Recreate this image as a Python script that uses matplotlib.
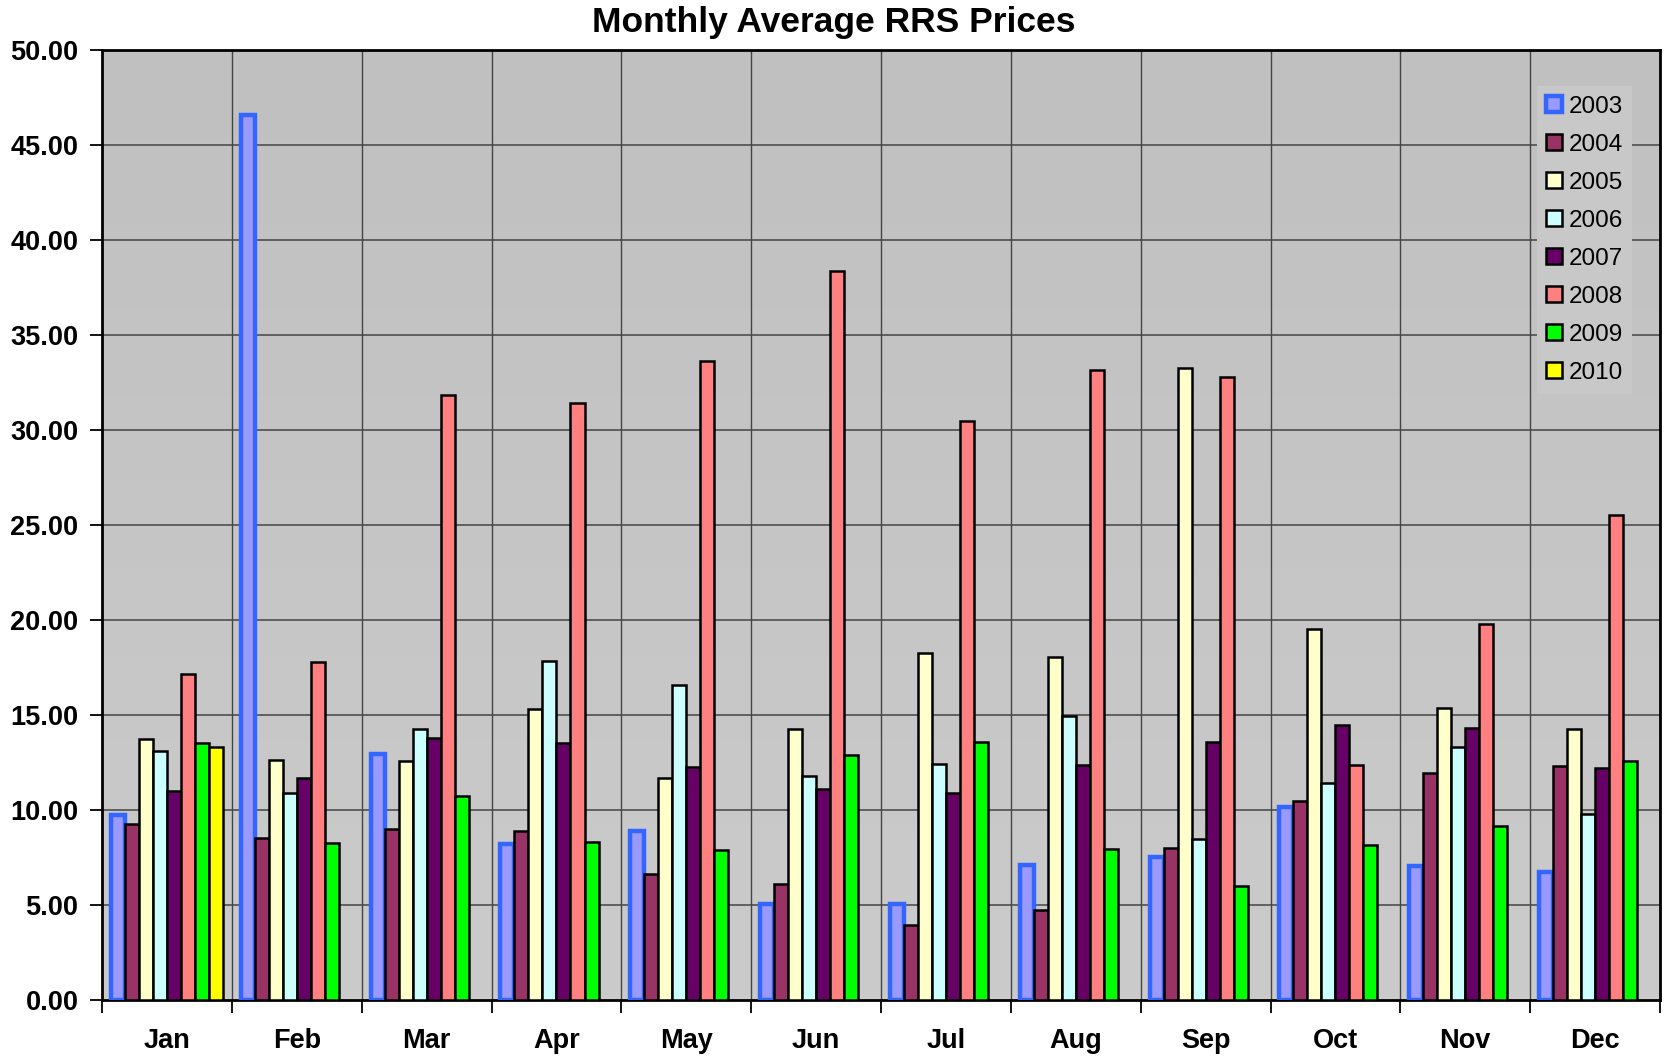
import numpy as np
import matplotlib
matplotlib.use("Agg")
import matplotlib.pyplot as plt
from matplotlib.colors import LinearSegmentedColormap

months = ["Jan", "Feb", "Mar", "Apr", "May", "Jun", "Jul", "Aug", "Sep", "Oct", "Nov", "Dec"]
years = ["2003", "2004", "2005", "2006", "2007", "2008", "2009", "2010"]
nan = np.nan
v2003 = [9.72, 46.60, 12.93, 8.21, 8.88, 5.08, 5.08, 7.09, 7.54, 10.17, 7.05, 6.73]
v2004 = [9.25, 8.51, 8.99, 8.88, 6.65, 6.09, 3.97, 4.75, 7.99, 10.45, 11.93, 12.32]
v2005 = [13.72, 12.63, 12.60, 15.30, 11.68, 14.25, 18.27, 18.04, 33.24, 19.55, 15.38, 14.24]
v2006 = [13.10, 10.91, 14.29, 17.82, 16.59, 11.79, 12.40, 14.97, 8.49, 11.40, 13.30, 9.80]
v2007 = [11.00, 11.68, 13.80, 13.52, 12.29, 11.12, 10.89, 12.35, 13.58, 14.47, 14.31, 12.23]
v2008 = [17.17, 17.81, 31.84, 31.40, 33.63, 38.38, 30.50, 33.18, 32.79, 12.35, 19.78, 25.51]
v2009 = [13.54, 8.29, 10.73, 8.32, 7.88, 12.90, 13.58, 7.93, 5.98, 8.16, 9.14, 12.57]
v2010 = [13.33, nan, nan, nan, nan, nan, nan, nan, nan, nan, nan, nan]
series = [v2003, v2004, v2005, v2006, v2007, v2008, v2009, v2010]

fills = ["#9999FF", "#993366", "#FFFFCC", "#CCFFFF", "#660066", "#FF8080", "#00FF00", "#FFFF00"]
edges = ["#3366FF"] + ["black"] * 7
lws = [3.2] + [1.8] * 7

plt.rcParams['font.family'] = ['Liberation Sans', 'DejaVu Sans']

fig = plt.figure(figsize=(16.65, 10.57), dpi=100)
ax = fig.add_axes([0.0613, 0.0539, 0.9357, 0.8988])

# background gradient
cmap = LinearSegmentedColormap.from_list("bg", ["#CBCBCB", "#C0C0C0"])
grad = np.linspace(0, 1, 256).reshape(-1, 1)
ax.imshow(grad, aspect="auto", cmap=cmap, origin="lower",
          extent=[0, 1, 0, 1], transform=ax.transAxes, zorder=0)

x = np.arange(len(months))
w = 0.108
for i, (vals, fc, ec, lw, yr) in enumerate(zip(series, fills, edges, lws, years)):
    ax.bar(x + (i - 3.5) * w, vals, width=w, color=fc, edgecolor=ec,
           linewidth=lw, label=yr, zorder=3)

ax.set_xlim(-0.5, 11.5)
ax.set_ylim(0, 50)
ax.set_yticks(np.arange(0, 50.1, 5))
ax.set_yticklabels([f"{v:.2f}" for v in np.arange(0, 50.1, 5)],
                   fontsize=19.5, fontweight="bold")
ax.set_xticks(x)
ax.set_xticklabels(months, fontsize=19.5, fontweight="bold")
ax.set_xticks(np.arange(-0.5, 11.6, 1), minor=True)
ax.tick_params(axis="x", which="major", length=0, pad=20)
ax.tick_params(axis="x", which="minor", length=9, width=1.3, direction="out")
ax.tick_params(axis="y", length=9, width=1.3, direction="out", pad=8)

for yv in np.arange(5, 50, 5):
    ax.axhline(yv, color="#444444", linewidth=1.1, zorder=1)
for xv in np.arange(0.5, 11.5, 1):
    ax.axvline(xv, color="#444444", linewidth=1.0, zorder=1)

for s in ax.spines.values():
    s.set_linewidth(2)
    s.set_color("black")

fig.text(0.5006, 0.979, "Monthly Average RRS Prices", fontsize=25.5,
         fontweight="bold", ha="center", va="center")

leg = ax.legend(loc="upper right", bbox_to_anchor=(0.99, 0.975), fontsize=17.5,
                frameon=True, fancybox=False, handlelength=0.65, handleheight=0.65,
                handletextpad=0.25, labelspacing=0.66, borderpad=0.4)
leg.get_frame().set_facecolor("#C8C8C8")
leg.get_frame().set_edgecolor("none")
leg.get_frame().set_alpha(1)

fig.savefig("out.png", dpi=100)
